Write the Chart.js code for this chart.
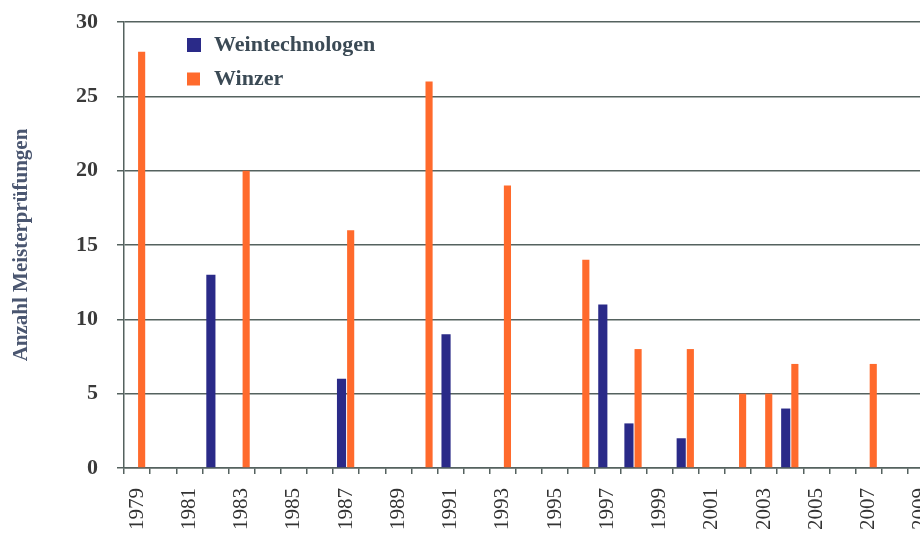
<!DOCTYPE html>
<html>
<head>
<meta charset="utf-8">
<script src="https://cdn.jsdelivr.net/npm/chart.js@4/dist/chart.umd.min.js"></script>
<style>
  html, body { margin: 0; padding: 0; background: #fff; overflow: hidden; }
  #wrap { width: 920px; height: 545px; overflow: hidden; }
</style>
</head>
<body>
<div id="wrap"><canvas id="chart" width="945" height="545"></canvas></div>
<script>
const years = [
  '1979', '1980', '1981', '1982', '1983', '1984', '1985', '1986', '1987', '1988',
  '1989', '1990', '1991', '1992', '1993', '1994', '1995', '1996', '1997', '1998',
  '1999', '2000', '2001', '2002', '2003', '2004', '2005', '2006', '2007', '2008', '2009'
];
// Weintechnologen
const weintechnologen = [
  null, null, null, 13, null, null, null, null, 6, null,
  null, null, 9, null, null, null, null, null, 11, 3,
  null, 2, null, null, null, 4, null, null, null, null, null
];
// Winzer
const winzer = [
  28, null, null, null, 20, null, null, null, 16, null,
  null, 26, null, null, 19, null, null, 14, null, 8,
  null, 8, null, 5, 5, 7, null, null, 7, null, 7
];
const yTicks = [0, 5, 10, 15, 20, 25, 30];

const BLUE = '#2a2a88';
const ORANGE = '#ff6a2c';
const GRID = '#55625f';
const SERIF = '"Liberation Serif", "DejaVu Serif", serif';

// legend drawn inside the plot, top-left
const innerLegend = {
  id: 'innerLegend',
  afterDatasetsDraw(chart) {
    const ctx = chart.ctx;
    const rows = [
      { y: 45, size: 14 },
      { y: 79, size: 13 }
    ];
    ctx.save();
    chart.data.datasets.forEach((ds, i) => {
      const r = rows[i];
      ctx.fillStyle = ds.backgroundColor;
      ctx.fillRect(187, r.y - r.size / 2, r.size, r.size);
      ctx.fillStyle = '#3b4a55';
      ctx.font = 'bold 22px ' + SERIF;
      ctx.textBaseline = 'middle';
      ctx.textAlign = 'left';
      ctx.fillText(ds.label, 214, r.y);
    });
    ctx.restore();
  }
};

new Chart(document.getElementById('chart'), {
  type: 'bar',
  data: {
    labels: years,
    datasets: [
      { label: 'Weintechnologen', data: weintechnologen, backgroundColor: BLUE, barPercentage: 1.0 },
      { label: 'Winzer', data: winzer, backgroundColor: ORANGE, barPercentage: 0.78 }
    ]
  },
  options: {
    responsive: false,
    animation: false,
    categoryPercentage: 0.7,
    layout: { padding: { top: 22, right: 11, left: 0, bottom: 0 } },
    plugins: {
      legend: { display: false },
      tooltip: { enabled: false }
    },
    scales: {
      x: {
        grid: { display: true, drawOnChartArea: false, drawTicks: true, tickLength: 6, color: GRID, lineWidth: 1.5 },
        border: { display: true, color: GRID, width: 1.5 },
        ticks: {
          autoSkip: false,
          maxRotation: 90,
          minRotation: 90,
          padding: 14,
          color: '#333',
          font: { family: SERIF, size: 21 },
          callback: (v, i) => (i % 2 === 0 ? years[i] : '')
        },
        afterFit: (scale) => {
          scale.height = 77;
          scale.paddingLeft = 0;
          scale.paddingRight = 0;
        }
      },
      y: {
        min: 0,
        max: 30,
        afterBuildTicks: (scale) => { scale.ticks = yTicks.map(v => ({ value: v })); },
        grid: { color: GRID, lineWidth: 1.5, tickLength: 7, drawTicks: true },
        border: { display: true, color: GRID, width: 1.5 },
        ticks: {
          padding: 19,
          color: '#3a3a3a',
          font: { family: SERIF, size: 22, weight: 'bold' }
        },
        title: {
          display: true,
          text: 'Anzahl Meisterprüfungen',
          color: '#4a5670',
          font: { family: SERIF, size: 21, weight: 'bold' },
          padding: { top: 9, bottom: 0 }
        },
        afterFit: (scale) => {
          scale.width = 124;
          scale.paddingTop = 0;
          scale.paddingBottom = 0;
        }
      }
    }
  },
  plugins: [innerLegend]
});
</script>
</body>
</html>
